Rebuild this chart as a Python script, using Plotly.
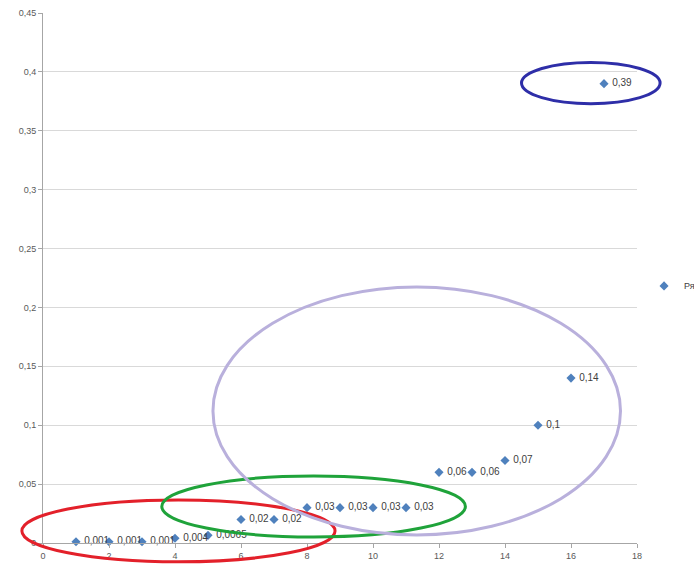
import plotly.graph_objects as go

x_vals = [1, 2, 3, 4, 5, 6, 7, 8, 9, 10, 11, 12, 13, 14, 15, 16, 17]
y_vals = [0.001, 0.001, 0.001, 0.004, 0.0065, 0.02, 0.02, 0.03, 0.03, 0.03, 0.03,
          0.06, 0.06, 0.07, 0.1, 0.14, 0.39]
labels = [" " + str(v).replace('.', ',') for v in y_vals]
series_name = "Ряд1"

X_MAX = 18
Y_MAX = 0.45

# ellipses in data units: (x0, x1, y0, y1, color)
ellipses = [
    (-0.64, 8.85, -0.016, 0.0365, "#e3202a"),
    (3.6, 12.8, 0.0051, 0.0569, "#1fa33a"),
    (5.15, 17.5, 0.0068, 0.2174, "#b9b0dc"),
    (14.5, 18.7, 0.373, 0.408, "#2e2ea8"),
]

fig = go.Figure()
fig.add_trace(go.Scatter(
    x=x_vals, y=y_vals, mode="markers+text", name=series_name,
    text=labels, textposition="middle right",
    textfont=dict(size=10, color="#404040", family="Liberation Sans"),
    marker=dict(symbol="diamond", size=7, color="#4f81bd"),
    cliponaxis=False,
))

for x0, x1, y0, y1, col in ellipses:
    fig.add_shape(type="circle", xref="paper", yref="paper",
                  x0=x0 / X_MAX, x1=x1 / X_MAX, y0=y0 / Y_MAX, y1=y1 / Y_MAX,
                  line=dict(color=col, width=3), layer="above")

fig.update_layout(
    width=694, height=565,
    margin=dict(l=43, r=57, t=13, b=22, autoexpand=False),
    paper_bgcolor="white", plot_bgcolor="white",
    separators=", ",
    font=dict(family="Liberation Sans", size=9, color="#595959"),
    showlegend=True,
    legend=dict(xref="container", yref="container", x=0.928, y=0.494,
                xanchor="left", yanchor="middle", itemwidth=30,
                font=dict(size=9, color="#404040"), bgcolor="rgba(0,0,0,0)"),
    xaxis=dict(range=[0, X_MAX], dtick=2, tick0=0, showgrid=False,
               showline=True, linecolor="#a6a6a6", linewidth=1,
               ticks="outside", ticklen=4, tickcolor="#a6a6a6",
               zeroline=False, tickfont=dict(size=9, color="#595959")),
    yaxis=dict(range=[0, Y_MAX], dtick=0.05, tick0=0, showgrid=True,
               gridcolor="#d9d9d9", gridwidth=1,
               showline=True, linecolor="#a6a6a6", linewidth=1,
               ticks="outside", ticklen=4, tickcolor="#a6a6a6",
               zeroline=False, tickfont=dict(size=9, color="#595959")),
)

fig.write_html("out.html")
